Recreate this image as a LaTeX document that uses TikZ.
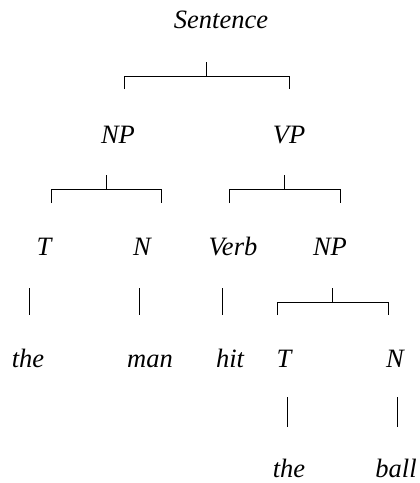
\documentclass[tikz,border=0pt]{standalone}
\usepackage{fontspec}
\setmainfont{Liberation Serif}
\usepackage{tikz}
\usetikzlibrary{calc}

\begin{document}
\begin{tikzpicture}[x=1pt,y=-1pt,line width=0.9pt,every node/.style={font=\fontsize{26.5}{30}\selectfont\itshape,inner sep=0pt,anchor=base}]
\useasboundingbox (0,0) rectangle (420,483);
% words, row by row
\node (s) at (221,28) {Sentence};
\node (np) at (118,143) {NP};
\node (vp) at (289,143) {VP};
\node (t1) at (44,255) {T};
\node (n1) at (142,255) {N};
\node (verb) at (233,255) {Verb};
\node (np2) at (330,255) {NP};
\node (the1) at (28,367) {the};
\node (man) at (150,367) {man};
\node (hit) at (230,367) {hit};
\node (t2) at (284,367) {T};
\node (n2) at (395,367) {N};
\node (the2) at (289,477) {the};
\node (ball) at (396,477) {ball};
% bracket ends
\coordinate (s-l) at (124,89);
\coordinate (s-r) at (289,89);
\coordinate (np-l) at (51,203);
\coordinate (np-r) at (161,203);
\coordinate (vp-l) at (229,203);
\coordinate (vp-r) at (340,203);
\coordinate (np2-l) at (277,315);
\coordinate (np2-r) at (388,315);
% brackets
\draw (s-l) -- ++(0,-13) -| (s-r) ($(s-l)!.5!(s-r)$) ++(0,-13) -- ++(0,-14);
\draw (np-l) -- ++(0,-14) -| (np-r) ($(np-l)!.5!(np-r)$) ++(0,-14) -- ++(0,-14);
\draw (vp-l) -- ++(0,-14) -| (vp-r) ($(vp-l)!.5!(vp-r)$) ++(0,-14) -- ++(0,-14);
\draw (np2-l) -- ++(0,-13) -| (np2-r) ($(np2-l)!.5!(np2-r)$) ++(0,-13) -- ++(0,-14);
% single strokes
\coordinate (t1-d) at (29,288);
\coordinate (n1-d) at (139,288);
\coordinate (verb-d) at (222,288);
\coordinate (t2-d) at (287,397);
\coordinate (n2-d) at (397,397);
\draw (t1-d) -- ++(0,27);
\draw (n1-d) -- ++(0,27);
\draw (verb-d) -- ++(0,27);
\draw (t2-d) -- ++(0,30);
\draw (n2-d) -- ++(0,30);
\end{tikzpicture}
\end{document}
